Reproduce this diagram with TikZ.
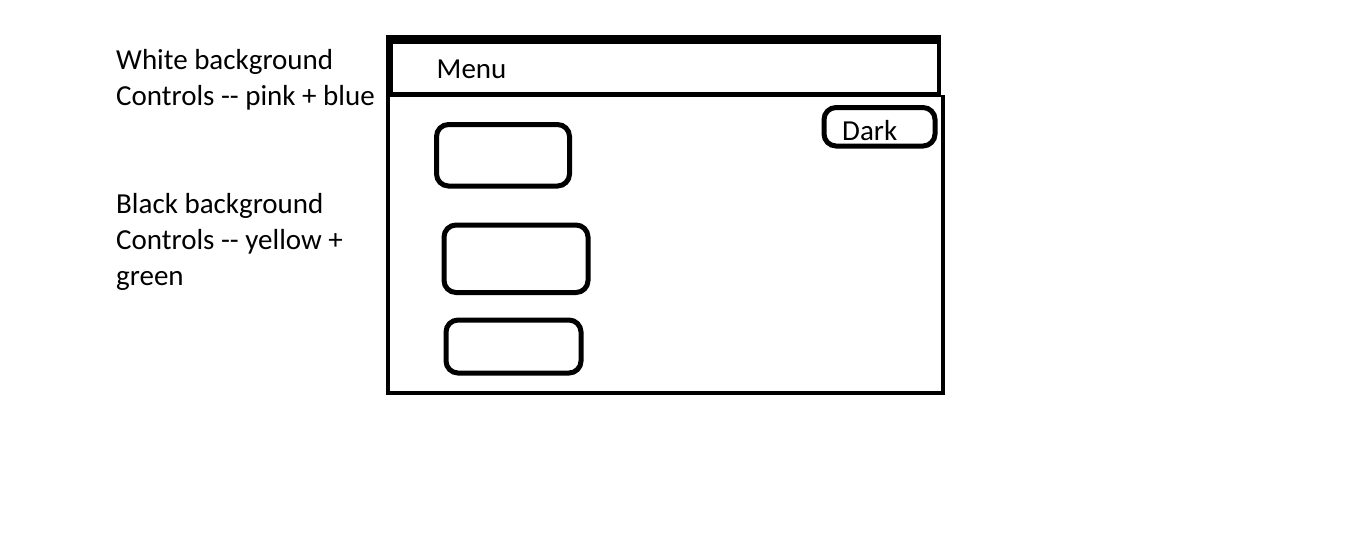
\documentclass[tikz,border=0pt]{standalone}
\usepackage{fontspec}
\newfontfamily\calib{Carlito}
\begin{document}
\begin{tikzpicture}[x=1pt,y=-1pt,
  lbl/.style={inner sep=0pt,anchor=base west,font=\calib\fontsize{29}{35}\selectfont},
  ctrl/.style={draw=black,line width=5pt,rounded corners=12pt}]
\useasboundingbox[fill=white] (0,0) rectangle (1360,552);
% menu bar (hand drawn, uneven strokes)
\fill[black] (386,35) rectangle (941,44);
\fill[black] (386,35) rectangle (393,97);
\fill[black] (937,35) rectangle (941,97);
\fill[black] (386,92) rectangle (941,97);
% body frame
\fill[black] (386,92) rectangle (390,395);
\fill[black] (941,95) rectangle (945,395);
\fill[black] (386,391) rectangle (945,395);
% texts
\node[lbl] (menu) at (436.5,78.5) {Menu};
\node[lbl] (w1) at (116,69.5) {White background};
\node[lbl] (w2) at (116,105) {Controls -- pink + blue};
\node[lbl] (b1) at (116,213.5) {Black background};
\node[lbl] (b2) at (116,249.5) {Controls -- yellow +};
\node[lbl] (b3) at (116,285.5) {green};
% controls
\draw[ctrl] (436.5,124.5) rectangle (569.5,186);
\draw[ctrl] (444,225) rectangle (588,292.5);
\draw[ctrl] (446,320) rectangle (581,373);
\draw[ctrl] (824,107.5) rectangle (935,146);
\node[lbl] (dark) at (842,140) {Dark};
\end{tikzpicture}
\end{document}
